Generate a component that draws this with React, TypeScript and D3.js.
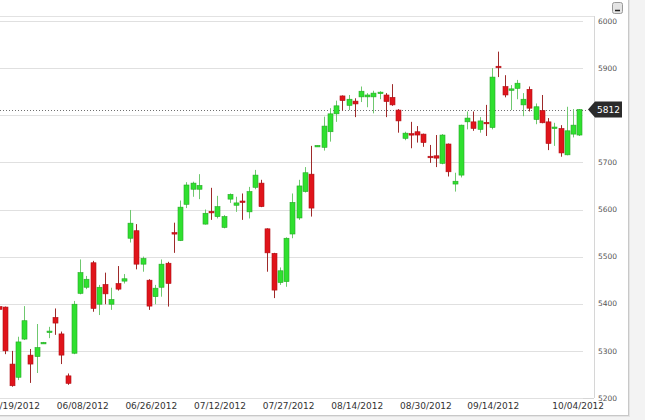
import React from "react";
import * as d3 from "d3";

// candle index -1 is the partially visible candle at the left edge
const openV = [5394,5393,5272,5244,5325,5291,5288,5316,5340,5371,5336,5247,5295,5422,5435,5487,5399,5441,5399,5443,5448,5539,5555,5484,5450,5415,5435,5486,5551,5534,5611,5643,5643,5569,5596,5585,5562,5622,5609,5618,5595,5647,5656,5559,5507,5445,5447,5548,5582,5638,5675,5734,5732,5765,5803,5841,5821,5830,5839,5839,5839,5847,5843,5838,5811,5751,5761,5765,5760,5713,5714,5698,5739,5654,5673,5786,5786,5770,5785,5774,5904,5861,5854,5857,5822,5855,5791,5810,5786,5773,5772,5716,5760,5758];
const highV = [5397,5394,5300,5330,5395,5304,5357,5319,5351,5390,5341,5252,5406,5494,5459,5491,5440,5466,5434,5480,5463,5599,5569,5500,5452,5440,5494,5489,5572,5619,5658,5659,5675,5600,5646,5629,5588,5634,5627,5634,5648,5684,5663,5560,5508,5477,5541,5634,5663,5690,5735,5736,5797,5815,5831,5842,5843,5836,5861,5847,5852,5851,5847,5866,5813,5765,5786,5777,5761,5737,5758,5760,5740,5678,5780,5808,5808,5796,5822,5900,5935,5885,5864,5875,5847,5861,5825,5843,5794,5784,5779,5818,5813,5813];
const lowV = [5385,5293,5224,5238,5323,5232,5253,5315,5327,5334,5272,5228,5293,5420,5431,5383,5376,5399,5387,5428,5443,5530,5473,5468,5387,5399,5415,5394,5508,5533,5603,5627,5622,5568,5578,5581,5560,5614,5595,5578,5581,5643,5605,5468,5412,5440,5436,5539,5578,5636,5585,5733,5725,5744,5786,5810,5811,5796,5828,5817,5804,5834,5796,5820,5763,5747,5730,5742,5733,5699,5690,5696,5670,5638,5668,5770,5767,5763,5756,5770,5881,5838,5811,5834,5798,5808,5781,5783,5726,5735,5712,5715,5753,5756];
const closeV = [5388,5300,5226,5319,5364,5272,5307,5318,5342,5359,5291,5231,5399,5466,5452,5390,5435,5421,5409,5431,5453,5571,5484,5496,5395,5433,5484,5443,5548,5605,5652,5656,5651,5592,5594,5606,5585,5632,5614,5616,5638,5673,5606,5508,5429,5470,5539,5615,5650,5678,5603,5736,5777,5803,5820,5831,5834,5824,5851,5843,5847,5849,5829,5822,5788,5762,5759,5758,5742,5711,5709,5758,5680,5660,5779,5794,5772,5788,5783,5881,5902,5843,5856,5868,5834,5815,5818,5784,5740,5775,5720,5767,5779,5812];
const firstIndex = -1;

const yTicks = [5200, 5300, 5400, 5500, 5600, 5700, 5800, 5900, 6000];
const xTickLabels = ["05/19/2012","06/08/2012","06/26/2012","07/12/2012","07/27/2012","08/14/2012","08/30/2012","09/14/2012","10/04/2012"];
const xTickIndex = [1.4, 12.4, 23.4, 34.4, 45.4, 56.4, 67.4, 78.2, 91.8];
const lastValue = 5812;

const W = 645, H = 420;

export default function App() {
  const x = d3.scaleLinear().domain([0, 92]).range([5.3, 579.4]);
  const y = d3.scaleLinear().domain([5200, 6000]).range([398, 21]);
  const bodyW = 5;
  const font = "'DejaVu Sans', Verdana, sans-serif";

  const candles = openV.map((o, k) => {
    const i = firstIndex + k;
    const c = closeV[k], h = highV[k], l = lowV[k];
    const up = c >= o;
    const cx = Math.round(x(i)) + 0.5;
    const yTop = y(Math.max(o, c));
    const yBot = y(Math.min(o, c));
    const bh = Math.max(1.5, yBot - yTop);
    return (
      <g key={k}>
        <line x1={cx} x2={cx} y1={y(h)} y2={y(l)} stroke={up ? "#6fc86f" : "#9e2a2a"} strokeWidth={1} />
        <rect x={cx - bodyW / 2} y={yTop} width={bodyW} height={bh}
          fill={up ? "#2fe02f" : "#e0141b"} stroke={up ? "#25a825" : "#b01016"} strokeWidth={0.6} />
      </g>
    );
  });

  const yl = y(lastValue);
  // y labels hidden behind the last-value marker are not drawn
  const visibleYTicks = yTicks.filter((t) => Math.abs(y(t) - yl) > 9);

  return (
    <svg width={W} height={H} style={{ position: "fixed", left: 0, top: 0, background: "#f3f3f3" }}>
      <rect x={-1} y={-1} width={629.5} height={416.5} fill="#ffffff" stroke="#c8c8c8" />
      <line x1={0} x2={594} y1={16.5} y2={16.5} stroke="#e2e2e2" />
      <line x1={594.5} x2={594.5} y1={16} y2={398} stroke="#d6d6d6" />
      <line x1={0} x2={594} y1={398.5} y2={398.5} stroke="#d6d6d6" />
      <line x1={629.5} x2={629.5} y1={0} y2={416} stroke="#e4e4e4" />
      <line x1={0} x2={630} y1={416.5} y2={416.5} stroke="#e4e4e4" />
      {yTicks.map((t) => (
        <line key={t} x1={0} x2={583} y1={Math.round(y(t)) + 0.5} y2={Math.round(y(t)) + 0.5} stroke="#e0e0e0" />
      ))}
      <line x1={0} x2={588} y1={Math.round(yl) + 0.5} y2={Math.round(yl) + 0.5}
        stroke="#707070" strokeDasharray="1,2" />
      {candles}
      {visibleYTicks.map((t) => (
        <text key={t} x={598} y={y(t)} dy="0.35em" fontFamily={font} fontSize={7.5} fill="#555">{t}</text>
      ))}
      {xTickLabels.map((lab, k) => (
        <text key={lab} x={x(xTickIndex[k])} y={409} textAnchor="middle" fontFamily={font} fontSize={9} fill="#333">{lab}</text>
      ))}
      <g>
        <path d={`M588,${yl} L595,${yl - 8} L622,${yl - 8} L622,${yl + 8} L595,${yl + 8} Z`} fill="#2b2b2b" />
        <text x={608.5} y={yl} dy="0.36em" textAnchor="middle" fontFamily={font} fontSize={9} fill="#fff">{lastValue}</text>
      </g>
      <g>
        <rect x={612.5} y={2.5} width={10} height={11} rx={2} fill="#e4e4e4" stroke="#999" />
        <line x1={615} x2={620} y1={10.5} y2={10.5} stroke="#222" strokeWidth={1.5} />
      </g>
    </svg>
  );
}
